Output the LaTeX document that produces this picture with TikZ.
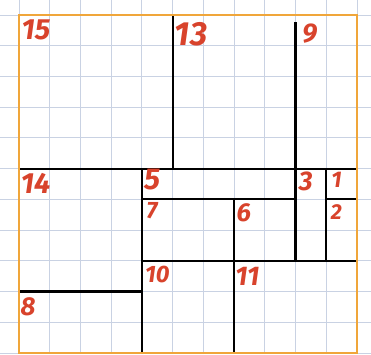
\documentclass[tikz,border=0pt]{standalone}
\usepackage{fontspec}
\setsansfont{Fira Sans}
\usepackage{xcolor}
\usepackage{tikz}
\usetikzlibrary{positioning}
\definecolor{gridblue}{HTML}{C9D2E3}
\definecolor{frameorange}{HTML}{F0A63A}
\definecolor{numred}{HTML}{D8432C}
\tikzset{
  wall/.style={black,line width=2pt},
  num/.style={numred,font=\sffamily\bfseries\itshape\fontsize{#1}{#1}\selectfont,inner sep=0pt}
}

\begin{document}
\begin{tikzpicture}
  \useasboundingbox (-0.618,-0.033) rectangle (11.455,11.488);
  % Squared paper
  \foreach \k in {0,...,11} {
    \draw[gridblue,line width=0.8pt] (\k,-0.033) -- (\k,11.488);
    \draw[gridblue,line width=0.8pt] (-0.618,\k) -- (11.455,\k);
  }

  % Walls between the squares
  \draw[wall] (0,6) -- (11,6);
  \draw[wall] (5,6) -- (5,11);
  \draw[wall] (9,3) -- (9,10.77);
  \draw[wall] (4,0) -- (4,6);
  \draw[wall] (4,5) -- (9,5);
  \draw[wall] (7,0) -- (7,5);
  \draw[wall] (4,3) -- (11,3);
  \draw[wall] (10,3) -- (10,6);
  \draw[wall] (10,5) -- (11,5);
  \draw[wall] (0,2) -- (4,2);

  % Outer square
  \draw[frameorange,line width=2pt] (0,0) rectangle (11,11);

  % Numbers
  \node[num=27] (n15) at (0.55,10.52) {15};
  \node[num=31] (n13) at (5.6,10.39) {13};
  \node[num=25] (n9) at (9.46,10.4) {9};
  \node[num=27] (n14) at (0.54,5.53) {14};
  \node[num=28] (n5) at (4.33,5.63) {5};
  \node[num=22] (n7) at (4.33,4.63) {7};
  \node[num=25] (n3) at (9.33,5.6) {3};
  \node[num=21] (n1) at (10.33,5.63) {1};
  \node[num=20] (n2) at (10.33,4.6) {2};
  \node[num=24] (n6) at (7.32,4.55) {6};
  \node[num=22] (n10) at (4.5,2.55) {10};
  \node[num=25] (n11) at (7.43,2.5) {11};
  \node[num=24] (n8) at (0.29,1.51) {8};
\end{tikzpicture}
\end{document}
